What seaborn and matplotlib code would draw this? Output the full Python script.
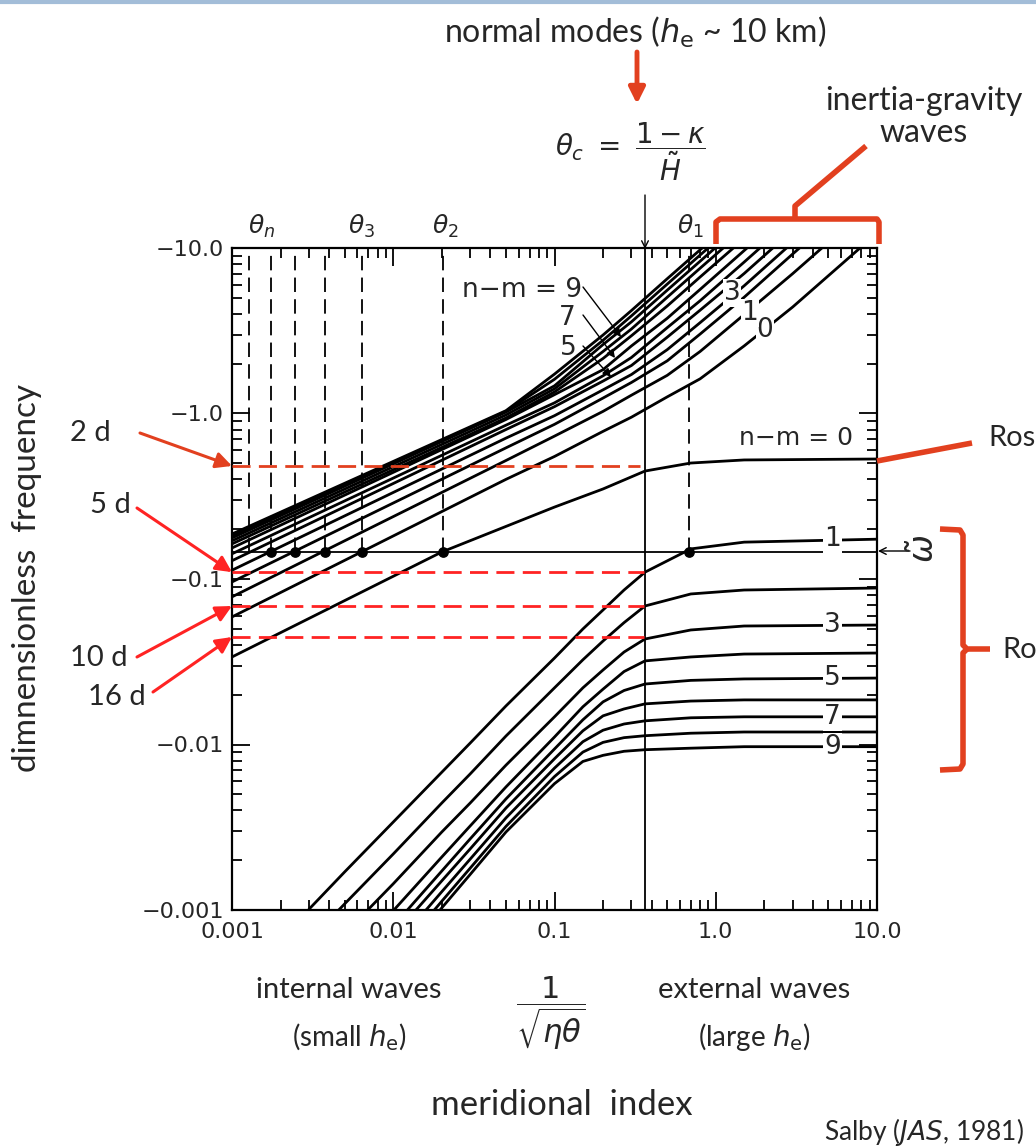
import numpy as np
import pandas as pd
import matplotlib
matplotlib.use('Agg')
import matplotlib.pyplot as plt
from matplotlib.lines import Line2D
from matplotlib.ticker import LogLocator, NullFormatter
import seaborn as sns

# Salby (JAS, 1981): |dimensionless frequency| against meridional index 1/sqrt(eta*theta)
# values (frequencies are negative, stored as magnitudes)

# inertia-gravity waves, n-m = 0 ... 11
ig_x = [0.001, 0.05, 0.1, 0.2, 0.3, 0.5, 0.8, 1.5, 3.0, 10.0]
ig_freq = [
    [0.059, 0.40, 0.55, 0.78, 0.95, 1.26, 1.62, 2.56, 4.4, 12.3],
    [0.078, 0.52, 0.73, 1.03, 1.29, 1.70, 2.37, 3.96, 7.0, 19.6],
    [0.096, 0.62, 0.86, 1.24, 1.54, 2.08, 3.02, 5.04, 9.2, 25.7],
    [0.113, 0.71, 0.97, 1.39, 1.72, 2.43, 3.54, 5.91, 10.8, 30.1],
    [0.129, 0.80, 1.10, 1.57, 1.95, 2.89, 4.21, 7.01, 12.8, 35.7],
    [0.142, 0.85, 1.16, 1.69, 2.18, 3.30, 4.80, 8.22, 15.0, 41.9],
    [0.154, 0.92, 1.30, 1.84, 2.56, 3.76, 5.62, 9.65, 17.6, 49.1],
    [0.163, 0.94, 1.35, 2.15, 2.95, 4.46, 6.68, 11.4, 20.8, 58.3],
    [0.170, 0.98, 1.41, 2.37, 3.24, 5.04, 7.55, 12.9, 23.6, 65.9],
    [0.177, 1.02, 1.47, 2.61, 3.58, 5.56, 8.32, 14.3, 26.0, 72.7],
    [0.182, 1.03, 1.61, 2.77, 3.89, 6.05, 9.07, 15.5, 28.3, 79.2],
    [0.187, 1.04, 1.73, 2.98, 4.19, 6.52, 9.75, 16.7, 30.5, 85.2],
]

# mixed Rossby-gravity wave (n-m = 0)
mrg_x = [0.001, 0.02, 0.1, 0.2, 0.364, 0.7, 1.5, 10.0]
mrg_freq = [0.0338, 0.1456, 0.272, 0.350, 0.449, 0.502, 0.524, 0.531]

# Rossby waves, n-m = 1 ... 9
ro_x = [0.003, 0.005, 0.01, 0.02, 0.03, 0.05, 0.1, 0.15, 0.2, 0.27, 0.364, 0.7, 1.5, 10.0]
ro_freq = [
    [0.00101, 0.0017, 0.0034, 0.0068, 0.0102, 0.0171, 0.0333, 0.0499, 0.065, 0.0858, 0.110, 0.152, 0.167, 0.174],
    [0.00065, 0.00109, 0.00218, 0.00443, 0.00664, 0.01125, 0.0220, 0.0325, 0.0422, 0.0545, 0.0687, 0.0812, 0.0858, 0.0882],
    [0.00042, 0.00072, 0.00144, 0.00296, 0.00443, 0.0075, 0.0147, 0.0220, 0.0282, 0.0362, 0.0434, 0.0492, 0.052, 0.0527],
    [0.00027, 0.00047, 0.00099, 0.00209, 0.00322, 0.00554, 0.0111, 0.0169, 0.0216, 0.0276, 0.0320, 0.0338, 0.0352, 0.0357],
    [0.00022, 0.00038, 0.0008, 0.00172, 0.00269, 0.00469, 0.0094, 0.0141, 0.0181, 0.0212, 0.0232, 0.0244, 0.0249, 0.0252],
    [0.00019, 0.00033, 0.0007, 0.0015, 0.00234, 0.00413, 0.0082, 0.0121, 0.0149, 0.0164, 0.0176, 0.0183, 0.0186, 0.0186],
    [0.00015, 0.00027, 0.00059, 0.00129, 0.00203, 0.0036, 0.0072, 0.0104, 0.0122, 0.0133, 0.0139, 0.0145, 0.0147, 0.0147],
    [0.00013, 0.00024, 0.00051, 0.00113, 0.00179, 0.0032, 0.0064, 0.0090, 0.0103, 0.0110, 0.0113, 0.0117, 0.0119, 0.0119],
    [0.00012, 0.00021, 0.00046, 0.00103, 0.00164, 0.00296, 0.0058, 0.0079, 0.0086, 0.0091, 0.0093, 0.0095, 0.0097, 0.0097],
]
ro_labels = ['1', '', '3', '', '5', '', '7', '', '9']

theta_x = [0.00127, 0.00175, 0.00246, 0.00377, 0.0064, 0.0204, 0.682]
theta_c = 0.364
omega_t = 0.1456

period_labels = ['2 d', '5 d', '10 d', '16 d']
period_freq = [0.482, 0.110, 0.0687, 0.0446]

x_ticks = [0.001, 0.01, 0.1, 1.0, 10.0]
x_ticklabels = ['0.001', '0.01', '0.1', '1.0', '10.0']
y_ticks = [10.0, 1.0, 0.1, 0.01, 0.001]
y_ticklabels = ['\u221210.0', '\u22121.0', '\u22120.1', '\u22120.01', '\u22120.001']

# long table for seaborn
rows = []
for fam, xs, curves in [('ig', ig_x, ig_freq), ('ro', ro_x, ro_freq), ('mrg', mrg_x, [mrg_freq])]:
    for i, ys in enumerate(curves):
        for x, y in zip(xs, ys):
            rows.append((f'{fam}{i}', x, y))
df = pd.DataFrame(rows, columns=['curve', 'x', 'freq'])

sns.set_theme(style='ticks')
plt.rcParams['font.family'] = ['DejaVu Sans']
plt.rcParams['mathtext.fontset'] = 'dejavusans'
ANNO = ['Lato', 'DejaVu Sans']
RED = '#e2401f'
RED2 = '#ff2323'

W, H = 1036, 1146
def fp(x, y):
    # pixel position (from top-left) -> figure fraction
    return (x / W, 1 - y / H)

fig = plt.figure(figsize=(W / 100, H / 100), dpi=100)
ax = fig.add_axes([232 / W, 1 - 910 / H, 645 / W, 662 / H])

sns.lineplot(data=df, x='x', y='freq', units='curve', estimator=None,
             color='black', lw=2.0, sort=False, ax=ax)
ax.set_xscale('log')
ax.set_yscale('log')
ax.set_xlim(0.001, 10)
ax.set_ylim(0.001, 10)
ax.set_xlabel('')
ax.set_ylabel('')

ax.set_xticks(x_ticks, x_ticklabels)
ax.set_yticks(y_ticks, y_ticklabels)
for a in (ax.xaxis, ax.yaxis):
    a.set_minor_locator(LogLocator(base=10, subs=np.arange(2, 10)))
    a.set_minor_formatter(NullFormatter())
ax.tick_params(which='both', direction='in', top=True, right=True, width=1.3, color='black')
ax.tick_params(which='major', length=13, labelsize=16)
ax.tick_params(axis='x', which='major', pad=9)
ax.tick_params(axis='y', which='major', pad=6)
ax.tick_params(which='minor', length=7)
for s in ax.spines.values():
    s.set_linewidth(1.6)
    s.set_color('black')

# reference lines
ax.axhline(omega_t, color='black', lw=1.3)
ax.axvline(theta_c, color='black', lw=1.3)
ax.vlines(theta_x, omega_t, 10, colors='black', linestyles=(0, (8, 4)), lw=1.3)
ax.scatter(theta_x[1:], [omega_t] * (len(theta_x) - 1), s=45, color='black', zorder=5)

# periods
for i, f in enumerate(period_freq):
    ax.hlines(f, 0.001, theta_c * (0.93 if i == 0 else 0.99),
              colors=RED if i == 0 else RED2, linestyles=(0, (6.5, 3)), lw=2, zorder=6)

period_text_px = [(90, 433), (110, 505), (99, 658), (117, 697)]
period_tail_px = [(140, 433), (137, 508), (137, 657), (153, 692)]
for i, (lab, f) in enumerate(zip(period_labels, period_freq)):
    fig.text(*fp(*period_text_px[i]), lab, ha='center', va='center', fontsize=21, family=ANNO)
    ax.annotate('', xy=(0.001, f), xycoords='data',
                xytext=fp(*period_tail_px[i]), textcoords='figure fraction',
                arrowprops=dict(arrowstyle='-|>', color=RED if i == 0 else RED2, lw=2.2,
                                mutation_scale=24, shrinkA=0, shrinkB=0),
                annotation_clip=False)

# curve labels (scan font)
lbl_box = dict(facecolor='white', edgecolor='none', pad=0.5)
for lab, ys in zip(ro_labels, ro_freq):
    if lab:
        ax.text(5.3, ys[-1], lab, ha='center', va='center', fontsize=19, bbox=lbl_box, zorder=7)
ax.text(2.02, 3.2, '0', ha='center', va='center', fontsize=19, bbox=lbl_box, zorder=7)
ax.text(1.63, 4.05, '1', ha='center', va='center', fontsize=19, bbox=lbl_box, zorder=7)
ax.text(1.26, 5.35, '3', ha='center', va='center', fontsize=19, bbox=lbl_box, zorder=7)
fig.text(*fp(796, 438), 'n\u2212m = 0', ha='center', va='center', fontsize=18)

fig.text(*fp(522, 290), 'n\u2212m = 9', ha='center', va='center', fontsize=19)
fig.text(*fp(567, 318), '7', ha='center', va='center', fontsize=19)
fig.text(*fp(568, 348), '5', ha='center', va='center', fontsize=19)
for tail, head in [((583, 287), (621, 337)), ((583, 315), (615, 358)), ((583, 346), (611, 377))]:
    ax.annotate('', xy=fp(*head), xycoords='figure fraction', xytext=fp(*tail),
                textcoords='figure fraction',
                arrowprops=dict(arrowstyle='-|>', color='black', lw=1.0, mutation_scale=12,
                                shrinkA=0, shrinkB=0), annotation_clip=False)

# theta labels above the frame
for lab, xp in [(r'$\theta_n$', 262), (r'$\theta_3$', 362), (r'$\theta_2$', 445), (r'$\theta_1$', 690)]:
    fig.text(*fp(xp, 226), lab, ha='center', va='center', fontsize=18)
fig.text(*fp(630, 152), r'$\theta_c\ =\ \dfrac{1-\kappa}{\tilde{H}}$', ha='center', va='center', fontsize=20)
ax.annotate('', xy=fp(645, 249), xycoords='figure fraction', xytext=fp(645, 195),
            textcoords='figure fraction',
            arrowprops=dict(arrowstyle='->', color='black', lw=1.0, shrinkA=0, shrinkB=0),
            annotation_clip=False)

# omega tilde marker on the right
ax.annotate('', xy=fp(878, 551), xycoords='figure fraction', xytext=fp(910, 551),
            textcoords='figure fraction',
            arrowprops=dict(arrowstyle='->', color='black', lw=1.0, shrinkA=0, shrinkB=0),
            annotation_clip=False)
fig.text(*fp(925, 549), r'$\tilde{\omega}$', ha='center', va='center', fontsize=24, rotation=90)

# top annotations
fig.text(*fp(635, 32), r'normal modes ($h_{\mathrm{e}}$ ~ 10 km)', ha='center', va='center',
         fontsize=23, family=ANNO)
ax.annotate('', xy=fp(637, 104), xycoords='figure fraction', xytext=fp(637, 52),
            textcoords='figure fraction',
            arrowprops=dict(arrowstyle='-|>', color=RED, lw=3.5, mutation_scale=24,
                            shrinkA=0, shrinkB=0), annotation_clip=False)
fig.text(*fp(924, 117), 'inertia-gravity\nwaves', ha='center', va='center', fontsize=23,
         family=ANNO, linespacing=1.1)

def bracket(pts, lw=4):
    xs = [p[0] / W for p in pts]
    ys = [1 - p[1] / H for p in pts]
    fig.add_artist(Line2D(xs, ys, color=RED, lw=lw, solid_joinstyle='round',
                          solid_capstyle='butt'))

bracket([(716, 244), (716, 222), (720, 219), (877, 219), (879, 222), (879, 244)])
bracket([(795, 219), (795, 206), (866, 146)])
bracket([(877, 461), (972, 443)])
bracket([(940, 529), (960, 530), (963, 535), (963, 645), (967, 649), (990, 649)])
bracket([(967, 649), (963, 653), (963, 764), (960, 769), (940, 770)])
# side labels, cut at the slide edge in the reference
fig.text(*fp(988, 438), 'Ros', ha='left', va='center', fontsize=21, family=ANNO)
fig.text(*fp(1002, 650), 'Ro', ha='left', va='center', fontsize=21, family=ANNO)

# axis titles and bottom notes
fig.text(*fp(27, 578), 'dimnensionless  frequency', rotation=90, ha='center', va='center',
         fontsize=24, family=ANNO)
fig.text(*fp(349, 990), 'internal waves', ha='center', va='center', fontsize=21, family=ANNO)
fig.text(*fp(349, 1037), r'(small $h_{\mathrm{e}}$)', ha='center', va='center', fontsize=20, family=ANNO)
fig.text(*fp(754, 990), 'external waves', ha='center', va='center', fontsize=21, family=ANNO)
fig.text(*fp(754, 1037), r'(large $h_{\mathrm{e}}$)', ha='center', va='center', fontsize=20, family=ANNO)
fig.text(*fp(551, 1013), r'$\dfrac{1}{\sqrt{\eta\theta}}$', ha='center', va='center', fontsize=22)
fig.text(*fp(562, 1105), 'meridional  index', ha='center', va='center', fontsize=25, family=ANNO)
fig.text(*fp(924, 1132), r'Salby ($\mathit{JAS}$, 1981)', ha='center', va='center', fontsize=19, family=ANNO)

# slide border at the top
fig.add_artist(Line2D([0, 1], [1 - 1.5 / H, 1 - 1.5 / H], color='#a3bdd8', lw=3))

fig.savefig('out.png', dpi=100)
